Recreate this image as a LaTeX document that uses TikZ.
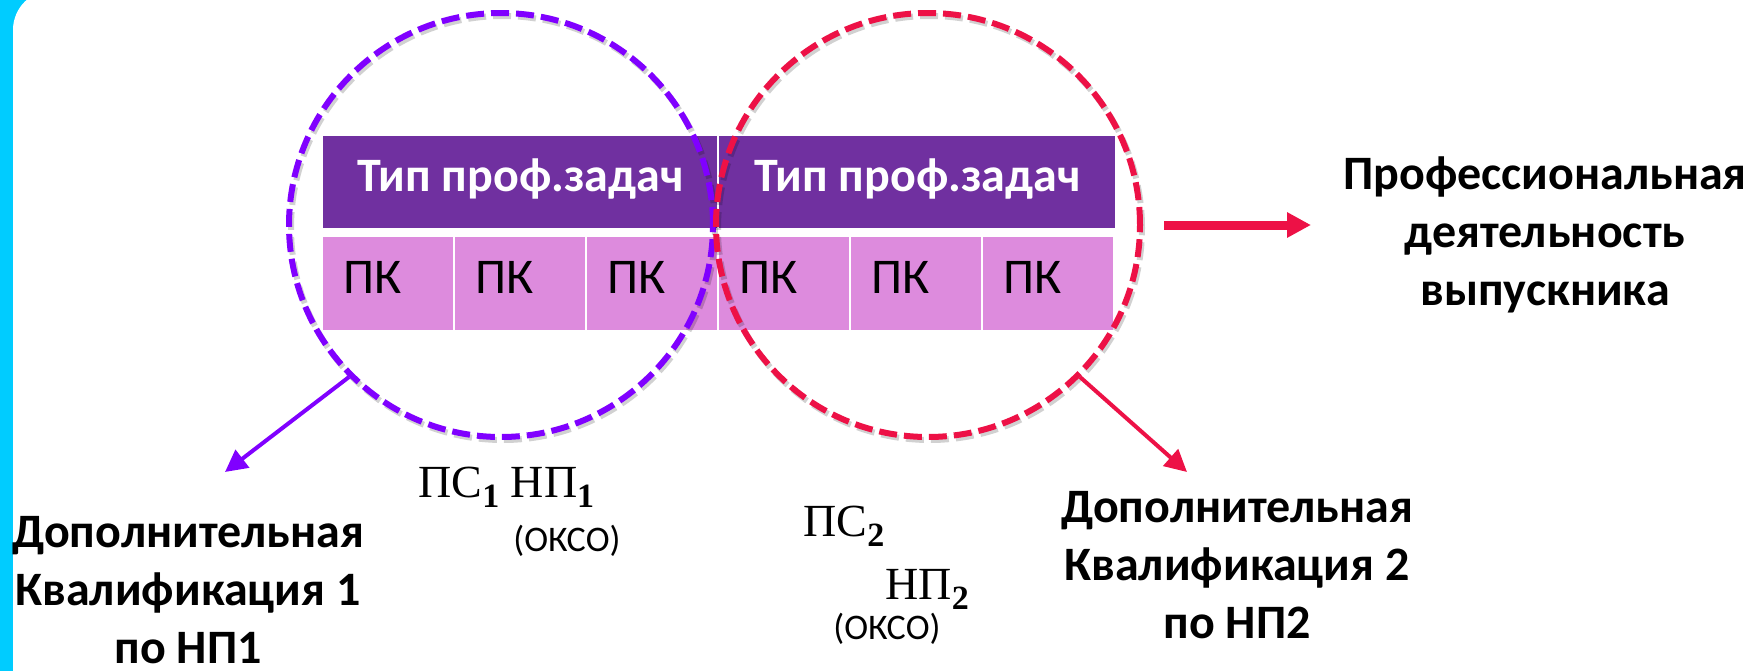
\documentclass[tikz,border=0pt]{standalone}
\usepackage{fontspec}
\setmainfont{Carlito}
\newfontfamily\serifm{Liberation Serif}
\usetikzlibrary{arrows.meta}
\definecolor{bluebar}{RGB}{0,204,255}
\definecolor{hdr}{RGB}{112,48,160}
\definecolor{pkc}{RGB}{221,139,221}
\definecolor{cpurple}{RGB}{128,0,255}
\definecolor{cred}{RGB}{237,17,70}
\newcommand\mysub[1]{\raisebox{-5pt}{\fontsize{17pt}{17pt}\selectfont\bfseries #1}}
\begin{document}
\begin{tikzpicture}[x=0.5pt,y=-0.5pt,
  hdrcell/.style={fill=hdr, text=white, font=\bfseries\fontsize{24pt}{28pt}\selectfont,
    minimum height=46pt, inner sep=0pt, anchor=north west, text height=15pt, text depth=6pt},
  pkcell/.style={fill=pkc, minimum height=46.5pt, anchor=north west, inner ysep=0pt,
    inner xsep=10pt, text width=45pt, align=left, font=\fontsize{25pt}{30pt}\selectfont,
    text height=16.5pt, text depth=7pt},
  ring/.style={circle, line width=3pt, dash pattern=on 9pt off 3.5pt, minimum size=212pt, inner sep=0pt,
    preaction={draw=black, draw opacity=0.18, transform canvas={shift={(1pt,-1.5pt)}}}},
  lbl/.style={font=\bfseries\fontsize{24pt}{29pt}\selectfont, align=center, inner sep=0pt},
  serift/.style={font=\serifm\fontsize{23pt}{28pt}\selectfont, inner sep=0pt},
  okso/.style={font=\fontsize{18pt}{22pt}\selectfont, inner sep=0pt},
  parrow/.style={cpurple, line width=2pt, -{Triangle[length=11pt,width=11pt]}},
  rarrow/.style={cred, line width=2pt, -{Triangle[length=11pt,width=11pt]}},
  bigarrow/.style={cred, line width=4.5pt, -{Triangle[length=12pt,width=12pt]}}
]
\useasboundingbox (0,0) rectangle (1763,671);
% background
\fill[bluebar] (0,0) rectangle (80,671);
\fill[white, rounded corners=20pt] (13,-10) rectangle (1800,720);
% table
\node[hdrcell, minimum width=197pt] (h1) at (323,136) {Тип проф.задач};
\node[hdrcell, minimum width=198pt] (h2) at (719,136) {Тип проф.задач};
\foreach \k in {0,...,5}{
  \node[pkcell] (p\k) at ({323+132*\k},237) {ПК};
}
% circles
\node[ring, draw=cpurple] (c1) at (501,225) {};
\node[ring, draw=cred] (c2) at (928,225) {};
% arrows
\coordinate (t1) at (225,472);
\coordinate (t2) at (1187,472);
\coordinate (a0) at (1164,225);
\coordinate (a1) at (1311,225);
\draw[parrow] (c1.225) -- (t1);
\draw[rarrow] (c2.-45) -- (t2);
\draw[bigarrow] (a0) -- (a1);
% labels (base = baseline of last line)
\node[lbl, anchor=base] (kv1) at (188,663) {Дополнительная\\Квалификация 1\\по НП1};
\node[lbl, anchor=base] (kv2) at (1237,638) {Дополнительная\\Квалификация 2\\по НП2};
\node[lbl, anchor=base] (pd) at (1545,305) {Профессиональная\\деятельность\\выпускника};
% standards
\node[serift, anchor=base west] (ps1) at (418,497) {ПС\mysub{1} НП\mysub{1}};
\node[okso, anchor=base] (ok1) at (567,551) {(ОКСО)};
\node[serift, anchor=base west] (ps2) at (803,536) {ПС\mysub{2}};
\node[serift, anchor=base west] (np2) at (885,599) {НП\mysub{2}};
\node[okso, anchor=base] (ok2) at (887,639) {(ОКСО)};
\end{tikzpicture}
\end{document}
